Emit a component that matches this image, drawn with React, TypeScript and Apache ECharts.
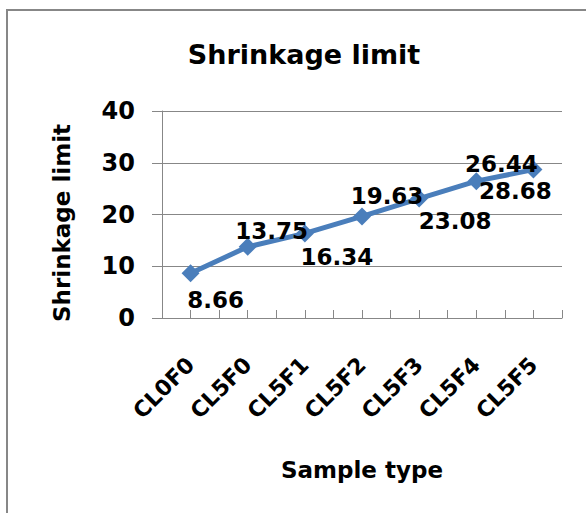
import React, { useEffect, useRef } from "react";
import * as echarts from "echarts";

const categories = ["CL0F0", "CL5F0", "CL5F1", "CL5F2", "CL5F3", "CL5F4", "CL5F5"];
const values = [8.66, 13.75, 16.34, 19.63, 23.08, 26.44, 28.68];
const labelOffsets: [number, number][] = [
  [25, 27],
  [24, -16],
  [32, 24],
  [25, -20],
  [36, 22],
  [25, -17],
  [-18, 21],
];
const yTicks = [0, 10, 20, 30, 40];

const FONT = "DejaVu Sans";
const GRAY = "#878787";
const BLUE = "#4A7EBB";

export default function App() {
  const ref = useRef<HTMLDivElement>(null);
  useEffect(() => {
    if (!ref.current) return;
    const chart = echarts.init(ref.current, undefined, { renderer: "svg" });
    const data = values.map((v, i) => ({
      value: [i, v],
      label: { offset: labelOffsets[i] },
    }));
    chart.setOption({
      animation: false,
      backgroundColor: "#ffffff",
      title: {
        text: "Shrinkage limit",
        left: 299,
        textAlign: "center",
        top: 36,
        textStyle: { fontFamily: FONT, fontWeight: "bold", fontSize: 27, color: "#000" },
      },
      graphic: [
        {
          type: "rect",
          shape: { x: 7, y: 10, width: 800, height: 800 },
          style: { fill: "none", stroke: GRAY, lineWidth: 2 },
          silent: true,
        },
        {
          type: "text",
          x: 62,
          y: 223,
          rotation: Math.PI / 2,
          style: {
            text: "Shrinkage limit",
            font: `bold 23px '${FONT}'`,
            fill: "#000",
            align: "center",
            verticalAlign: "middle",
          },
        },
      ],
      grid: { left: 162, right: 24, top: 111, bottom: 195, containLabel: false },
      xAxis: {
        type: "value",
        min: -0.5,
        max: 6.5,
        interval: 0.5,
        name: "Sample type",
        nameLocation: "middle",
        nameGap: 140,
        nameTextStyle: { fontFamily: FONT, fontWeight: "bold", fontSize: 23, color: "#000" },
        axisLine: { show: true, onZero: false, lineStyle: { color: GRAY, width: 1 } },
        axisTick: { show: true, inside: true, length: 8, lineStyle: { color: GRAY, width: 1 } },
        splitLine: { show: false },
        axisLabel: {
          rotate: 45,
          margin: 43,
          fontFamily: FONT,
          fontWeight: "bold",
          fontSize: 22,
          color: "#000",
          showMinLabel: true,
          showMaxLabel: true,
          formatter: (v: number) =>
            Number.isInteger(v) && v >= 0 && v < categories.length ? categories[v] : "",
        },
      },
      yAxis: {
        type: "value",
        min: yTicks[0],
        max: yTicks[yTicks.length - 1],
        interval: 10,
        axisLine: { show: true, onZero: false, lineStyle: { color: GRAY, width: 1 } },
        axisTick: { show: true, inside: false, length: 10, lineStyle: { color: GRAY, width: 1 } },
        splitLine: { show: true, lineStyle: { color: GRAY, width: 1 } },
        axisLabel: {
          margin: 27,
          fontFamily: FONT,
          fontWeight: "bold",
          fontSize: 24,
          color: "#000",
        },
      },
      series: [
        {
          type: "line",
          data,
          symbol: "diamond",
          symbolSize: 18,
          itemStyle: { color: BLUE },
          lineStyle: { color: BLUE, width: 5 },
          label: {
            show: true,
            position: "inside",
            formatter: (p: any) => String(p.value[1]),
            fontFamily: FONT,
            fontWeight: "bold",
            fontSize: 23,
            color: "#000",
            align: "center",
            verticalAlign: "middle",
          },
        },
      ],
    });
    return () => chart.dispose();
  }, []);
  return (
    <div
      ref={ref}
      style={{ position: "absolute", left: 0, top: 0, width: 586, height: 513 }}
    />
  );
}
